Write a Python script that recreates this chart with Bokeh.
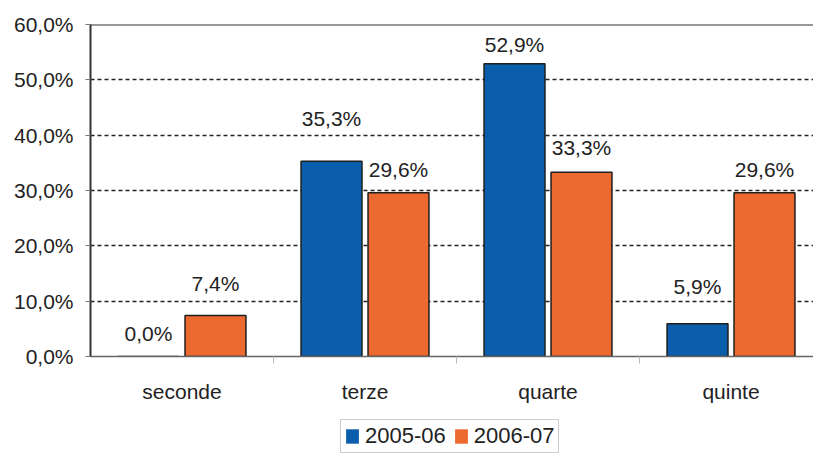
from bokeh.plotting import figure
from bokeh.layouts import column
from bokeh.models import ColumnDataSource, Range1d, FixedTicker, Span, Legend, LegendItem
from bokeh.transform import dodge
from bokeh.core.properties import value
from bokeh.embed import file_html
from bokeh.resources import INLINE

# ---- data ----
categories = ["seconde", "terze", "quarte", "quinte"]
series_names = ["2005-06", "2006-07"]
values_2005_06 = [0.0, 35.3, 52.9, 5.9]
values_2006_07 = [7.4, 29.6, 33.3, 29.6]
y_ticks = [0, 10, 20, 30, 40, 50, 60]
y_tick_labels = ["0,0%", "10,0%", "20,0%", "30,0%", "40,0%", "50,0%", "60,0%"]

# label gaps above bars (pixels), as placed in the original
gap_a = [23, 43, 19, 37]
gap_b = [32, 23, 25, 23]

FONT = "Liberation Sans"
BLUE = "#0b5eab"
ORANGE = "#ec6a2f"
TXT = "#222222"
EDGE = "#1e1e1e"

def fmt(v):
    return f"{v:.1f}".replace(".", ",") + "%"

xc = [i + 0.5 for i in range(len(categories))]
src_a = ColumnDataSource(dict(xc=xc, v=values_2005_06,
                              lbl=[fmt(v) for v in values_2005_06],
                              off=[-g for g in gap_a]))
src_b = ColumnDataSource(dict(xc=xc, v=values_2006_07,
                              lbl=[fmt(v) for v in values_2006_07],
                              off=[-g for g in gap_b]))

p = figure(width=813, height=410, output_backend="svg", toolbar_location=None,
           x_range=Range1d(0, 723 / 183), y_range=Range1d(0, 60),
           min_border_left=90, min_border_right=0, min_border_top=24,
           min_border_bottom=54)
p.outline_line_color = None
p.background_fill_color = "white"
p.border_fill_color = "white"

OFF = 0.183
W = 0.333
p.vbar(x=dodge("xc", -OFF, range=p.x_range), top="v", width=W, source=src_a,
       fill_color=BLUE, line_color=EDGE, line_width=1.5)
p.vbar(x=dodge("xc", OFF, range=p.x_range), top="v", width=W, source=src_b,
       fill_color=ORANGE, line_color=EDGE, line_width=1.5)

for src, o in ((src_a, -OFF), (src_b, OFF)):
    p.text(x=dodge("xc", o, range=p.x_range), y="v", text="lbl", y_offset="off",
           source=src, text_align="center", text_baseline="alphabetic",
           text_font=value(FONT), text_font_size="21px", text_color=TXT)

# grid
p.xgrid.visible = False
p.ygrid.ticker = FixedTicker(ticks=y_ticks[1:-1])
p.ygrid.grid_line_color = "#222222"
p.ygrid.grid_line_dash = "4 3"
p.ygrid.grid_line_width = 1.6
p.add_layout(Span(location=y_ticks[-1], dimension="width",
                  line_color="#333333", line_width=2))

# y axis
p.yaxis.ticker = FixedTicker(ticks=y_ticks)
p.yaxis.major_label_overrides = {t: l for t, l in zip(y_ticks, y_tick_labels)}
p.yaxis.major_label_text_font = FONT
p.yaxis.major_label_text_font_size = "21px"
p.yaxis.major_label_text_color = TXT
p.yaxis.major_label_standoff = 12
p.yaxis.major_tick_out = 5
p.yaxis.major_tick_in = 0
p.yaxis.major_tick_line_color = "#777777"
p.yaxis.minor_tick_line_color = None
p.yaxis.axis_line_color = "#333333"
p.yaxis.axis_line_width = 2

# x axis
p.xaxis.ticker = FixedTicker(ticks=xc, minor_ticks=[i for i in range(1, len(categories))])
p.xaxis.major_label_overrides = {x: c for x, c in zip(xc, categories)}
p.xaxis.major_label_text_font = FONT
p.xaxis.major_label_text_font_size = "21px"
p.xaxis.major_label_text_color = TXT
p.xaxis.major_label_standoff = 16
p.xaxis.major_tick_in = 0
p.xaxis.major_tick_out = 0
p.xaxis.minor_tick_in = 0
p.xaxis.minor_tick_out = 7
p.xaxis.minor_tick_line_color = "#bbbbbb"
p.xaxis.axis_line_color = "#666666"
p.xaxis.axis_line_width = 1.5

# legend strip below the chart (series glyphs kept out of view)
lf = figure(width=813, height=45, output_backend="svg", toolbar_location=None,
            x_axis_type=None, y_axis_type=None,
            x_range=Range1d(100, 101), y_range=Range1d(100, 101),
            min_border_left=0, min_border_right=0, min_border_top=0,
            min_border_bottom=0)
lf.outline_line_color = None
lf.xgrid.visible = False
lf.ygrid.visible = False
ra = lf.vbar(x="xc", top="v", width=W, source=src_a,
             fill_color=BLUE, line_color=None)
rb = lf.vbar(x="xc", top="v", width=W, source=src_b,
             fill_color=ORANGE, line_color=None)
lg = Legend(items=[LegendItem(label=series_names[0], renderers=[ra]),
                   LegendItem(label=series_names[1], renderers=[rb])],
            orientation="horizontal", location=(250, 2))
lg.border_line_color = "#999999"
lg.border_line_width = 1
lg.background_fill_color = "white"
lg.background_fill_alpha = 1
lg.glyph_width = 16
lg.glyph_height = 18
lg.label_standoff = 5
lg.spacing = 7
lg.padding = 3
lg.margin = 0
lg.label_text_font = FONT
lg.label_text_font_size = "22px"
lg.label_text_color = TXT
lf.add_layout(lg)

layout = column(p, lf, spacing=0)
open("out.html", "w").write(file_html(layout, INLINE))
